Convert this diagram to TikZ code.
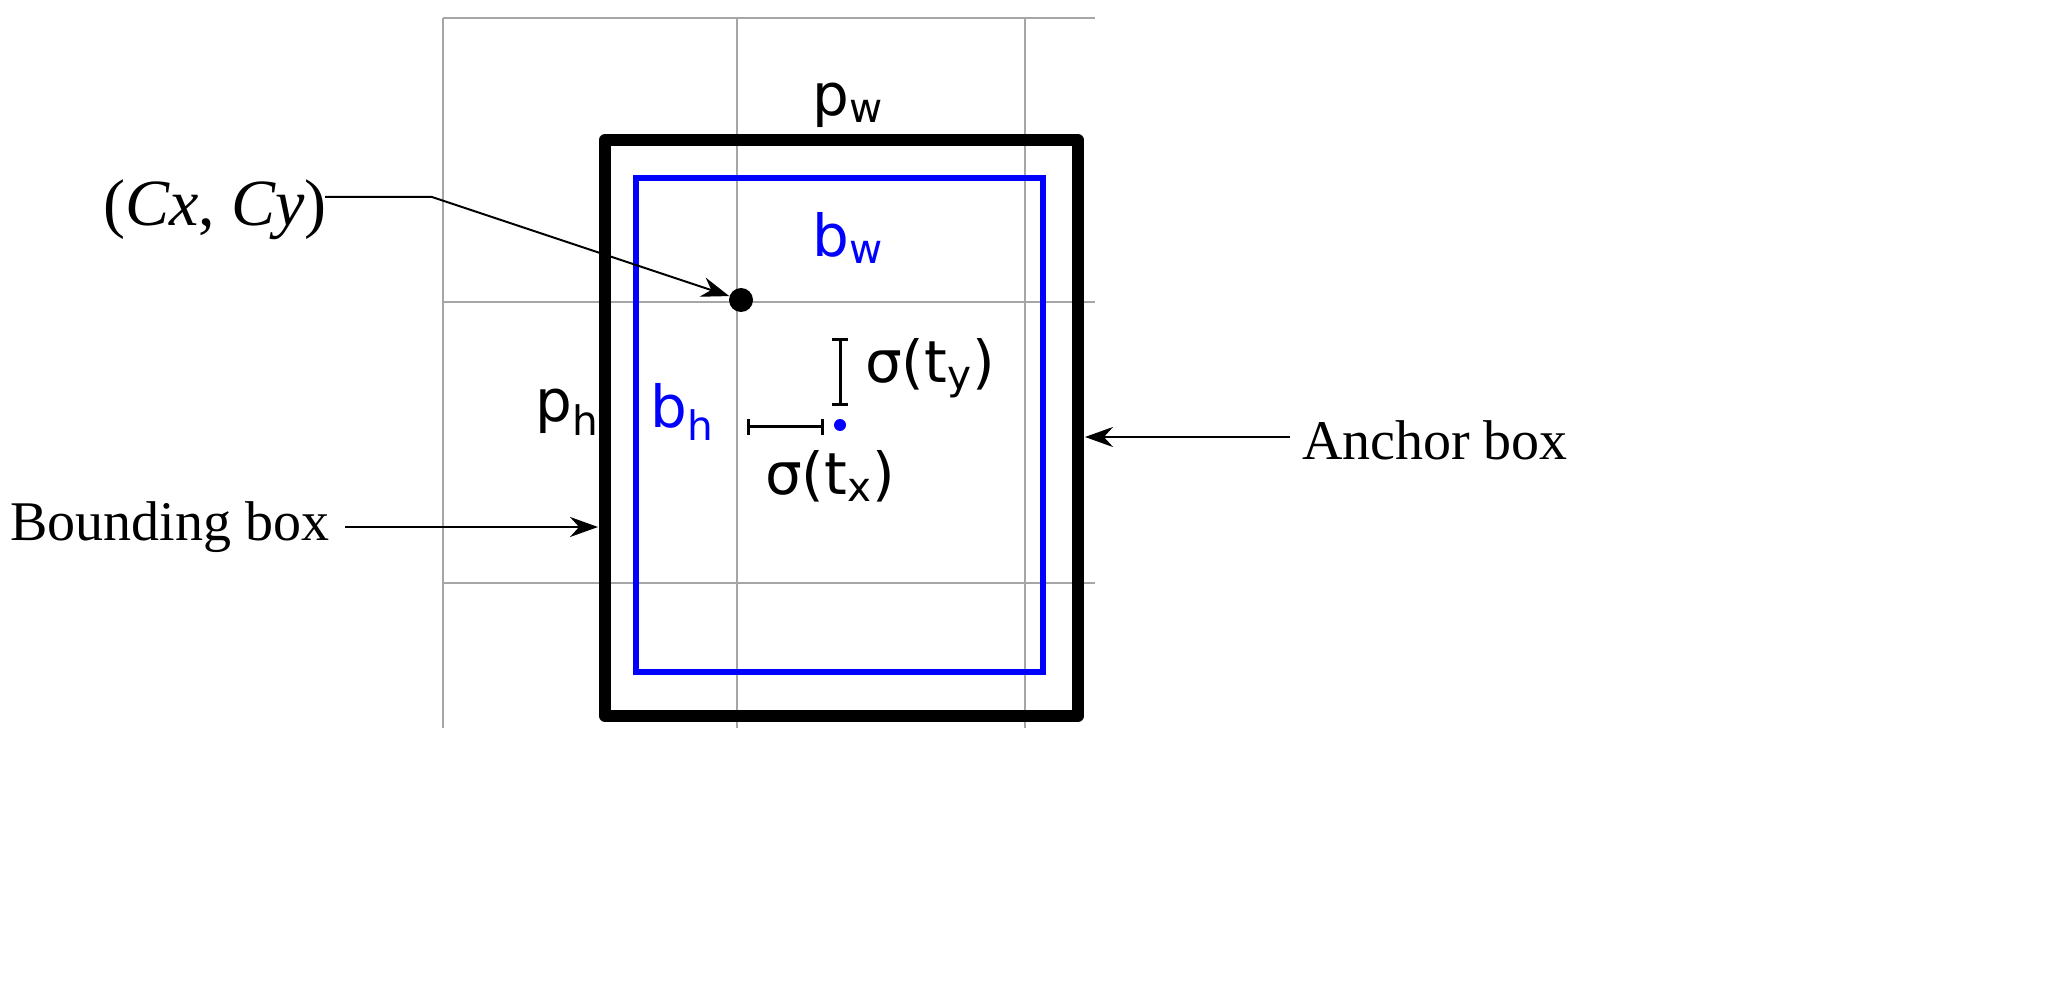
\documentclass[tikz,border=0pt]{standalone}
\usepackage{fontspec}
\setmainfont{Liberation Serif}
\newfontfamily\lblfont{DejaVu Sans}
\usetikzlibrary{arrows.meta}
\begin{document}
\begin{tikzpicture}[x=0.5pt,y=-0.5pt,
 grid/.style={draw=gray!70,line width=1pt},
 lbl/.style={font=\lblfont\fontsize{29}{34}\selectfont},
 txt/.style={font=\fontsize{28}{32}\selectfont},
 arr/.style={line width=1pt,-{Stealth[length=14pt,width=10pt]}}]
\useasboundingbox (0,0) rectangle (2069,1000);
\foreach \x in {443,737,1025} \draw[grid] (\x,18) -- (\x,728);
\foreach \y in {18,302,583} \draw[grid] (443,\y) -- (1095,\y);
\draw[line width=6pt,line join=round] (605,140) rectangle (1078,716);
\draw[blue,line width=3pt] (636,178) rectangle (1043,672);
\node[lbl] (pw) at (848,105) {p\textsubscript{w}};
\node[lbl,blue] (bw) at (848,238) {b\textsubscript{w}};
\node[lbl] (ph) at (567,412) {p\textsubscript{h}};
\node[lbl,blue] (bh) at (682,412) {b\textsubscript{h}};
\node[circle,fill,inner sep=0pt,minimum size=12pt] (c) at (741,300) {};
\node[circle,fill=blue,inner sep=0pt,minimum size=6pt] (b) at (840,425) {};
\draw[line width=1.5pt] (840,340) -- (840,405) (832,340) -- (848,340) (832,405) -- (848,405);
\draw[line width=1.5pt] (748,427) -- (822,427) (748,419) -- (748,435) (822,419) -- (822,435);
\node[lbl,anchor=west] (ty) at (858,368) {σ(t\textsubscript{y})};
\node[lbl] (tx) at (830,476) {σ(t\textsubscript{x})};
\node[font=\fontsize{33}{38}\selectfont] (cc) at (215,210) {(\textit{Cx}, \textit{Cy})};
\coordinate (k) at (432,197);
\draw[arr] (325,197) -- (k) -- (c);
\node[txt] (ab) at (1435,440) {Anchor box};
\draw[arr] (1290,437) -- (1085,437);
\node[txt] (bb) at (170,527) {Bounding box};
\draw[arr] (345,527) -- (598,527);
\end{tikzpicture}
\end{document}
